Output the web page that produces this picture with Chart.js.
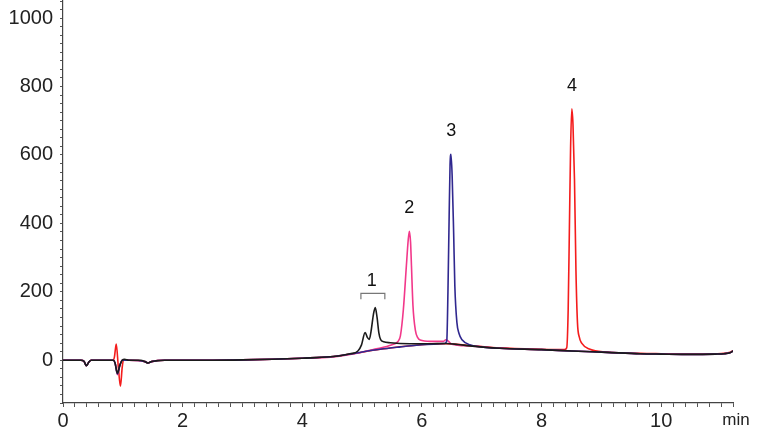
<!DOCTYPE html>
<html>
<head>
<meta charset="utf-8">
<script src="https://cdn.jsdelivr.net/npm/chart.js@4/dist/chart.umd.min.js"></script>
<style>
  html, body { margin: 0; padding: 0; background: #fff; }
  #wrap { width: 768px; height: 432px; }
</style>
</head>
<body>
<div id="wrap"><canvas id="c" width="768" height="432"></canvas></div>
<script>
// Chromatogram, four overlaid runs (min vs signal).
const blackRun = [
  [0, 0], [0.3, 0], [0.35, -3], [0.39, -16], [0.43, -6], [0.47, 0], [0.84, 0], [0.87, -8], [0.91, -38],
  [0.95, -15], [0.99, 0], [1.03, 3], [1.1, 0], [1.3, 0], [1.37, -4], [1.42, -8], [1.48, -4], [1.55, -2],
  [1.7, 0], [2.5, 0], [3.0, 1], [3.5, 3], [4.0, 6], [4.47, 10], [4.8, 19], [4.93, 27], [4.99, 45],
  [5.05, 81], [5.09, 66], [5.12, 61], [5.15, 85], [5.19, 135], [5.22, 154], [5.25, 125], [5.28, 80],
  [5.31, 60], [5.36, 54], [5.47, 51], [5.8, 48], [6.1, 48], [6.41, 49], [6.6, 46], [6.8, 42], [7.3, 35],
  [8.0, 31], [8.5, 27], [9.09, 23], [9.65, 19], [10.0, 18], [10.5, 17], [10.9, 18], [11.05, 19],
  [11.15, 22], [11.2, 27]
];
const blueRun = [
  [0, 0], [0.3, 0], [0.35, -3], [0.39, -16], [0.43, -6], [0.47, 0], [0.84, 0], [0.87, -8], [0.91, -40],
  [0.95, -15], [0.99, 0], [1.1, 0], [1.37, -4], [1.42, -8], [1.48, -4], [1.7, 0], [2.5, 0], [3.0, 1],
  [3.5, 3], [4.0, 6], [4.47, 10], [4.8, 18], [5.0, 24], [5.3, 32], [5.64, 39], [5.91, 44], [6.2, 47],
  [6.38, 49], [6.415, 56], [6.435, 200], [6.455, 420], [6.47, 570], [6.485, 602], [6.505, 540], [6.53, 374],
  [6.55, 218], [6.585, 110], [6.62, 78], [6.67, 60], [6.8, 45], [7.3, 35], [8.0, 31], [8.5, 27],
  [9.09, 23], [9.65, 19], [10.0, 18], [10.5, 17], [10.9, 18], [11.05, 19], [11.15, 22], [11.2, 27]
];
const pinkRun = [
  [0, 0], [0.3, 0], [0.35, -3], [0.39, -16], [0.43, -6], [0.47, 0], [0.84, 0], [0.87, -8], [0.91, -42],
  [0.95, -15], [0.99, 0], [1.1, 0], [1.37, -4], [1.42, -8], [1.48, -4], [1.7, 0], [2.5, 0], [3.0, 1],
  [3.5, 3], [4.0, 6], [4.47, 9], [4.8, 17], [5.2, 32], [5.5, 45], [5.6, 55], [5.64, 71], [5.69, 149],
  [5.74, 276], [5.77, 350], [5.79, 377], [5.81, 345], [5.825, 276], [5.85, 160], [5.89, 88], [5.93, 66],
  [5.97, 59], [6.14, 55], [6.36, 55], [6.4, 60], [6.44, 56], [6.5, 47], [6.8, 42], [7.3, 35], [8.0, 31],
  [8.5, 27], [9.09, 23], [9.65, 19], [10.0, 18], [10.5, 17], [10.9, 18], [11.05, 19], [11.15, 22], [11.2, 27]
];
const redRun = [
  [0, 0], [0.3, 0], [0.35, -3], [0.39, -16], [0.43, -6], [0.47, 0], [0.84, 0], [0.86, 10], [0.89, 47],
  [0.925, -20], [0.96, -76], [0.99, -20], [1.01, 0], [1.1, 0], [1.37, -4], [1.42, -8], [1.48, -4],
  [1.7, 0], [2.5, 0], [3.0, 1], [3.5, 3], [4.0, 6], [4.47, 10], [4.8, 18], [5.3, 32], [5.9, 44],
  [6.4, 48], [6.8, 43], [7.3, 36], [8.0, 32], [8.38, 31], [8.42, 36], [8.445, 150], [8.465, 384],
  [8.485, 620], [8.505, 735], [8.525, 690], [8.55, 530], [8.575, 260], [8.6, 110], [8.63, 68], [8.67, 50],
  [8.81, 32], [9.09, 24], [9.65, 20], [10.0, 19], [10.5, 18], [10.9, 19], [11.05, 20], [11.15, 23], [11.2, 28]
];

const peakNames = ['1', '2', '3', '4'];
const peakTimes = [5.16, 5.79, 6.49, 8.51];
const peakTops = [165, 377, 602, 735];
const groupOneSpan = [4.98, 5.38];

const xTickStep = 0.2;
const yTickStep = 25;

const pts = (arr) => arr.map(([x, y]) => ({ x, y }));
const line = (data, col) => ({
  data: pts(data), borderColor: col, backgroundColor: col, borderWidth: 1.6,
  pointRadius: 0, cubicInterpolationMode: 'monotone', fill: false
});

const peakLabels = {
  id: 'peakLabels',
  afterDatasetsDraw(chart) {
    const { ctx, scales: { x, y } } = chart;
    ctx.save();
    ctx.fillStyle = '#111';
    ctx.font = '18px "Liberation Sans", Arial, sans-serif';
    ctx.textAlign = 'center';
    ctx.textBaseline = 'middle';
    peakNames.forEach((n, i) => {
      ctx.fillText(n, x.getPixelForValue(peakTimes[i]), y.getPixelForValue(peakTops[i]) - 23);
    });
    // bracket over the split first peak
    const by = y.getPixelForValue(peakTops[0]) - 10.5;
    const bx0 = x.getPixelForValue(groupOneSpan[0]), bx1 = x.getPixelForValue(groupOneSpan[1]);
    ctx.strokeStyle = '#777';
    ctx.lineWidth = 1.2;
    ctx.beginPath();
    ctx.moveTo(bx0, by + 6); ctx.lineTo(bx0, by); ctx.lineTo(bx1, by); ctx.lineTo(bx1, by + 6);
    ctx.stroke();
    // axis unit
    ctx.font = '17px "Liberation Sans", Arial, sans-serif';
    ctx.textBaseline = 'alphabetic';
    ctx.fillStyle = '#222';
    ctx.fillText('min', x.right + 3, chart.height - 7);
    ctx.restore();
  }
};

Chart.defaults.font.family = '"Liberation Sans", Arial, sans-serif';
Chart.defaults.color = '#222';

new Chart(document.getElementById('c'), {
  type: 'line',
  data: {
    datasets: [
      line(blackRun, '#1b1b1b'),
      line(blueRun, '#30288f'),
      line(pinkRun, '#f2388a'),
      line(redRun, '#f41c1c')
    ]
  },
  options: {
    responsive: false,
    animation: false,
    layout: { padding: { top: 1, right: 35, left: 0, bottom: 0 } },
    plugins: { legend: { display: false }, tooltip: { enabled: false } },
    scales: {
      x: {
        type: 'linear', min: 0, max: 11.2,
        afterFit: (s) => { s.height = 29; s.paddingLeft = 0; s.paddingRight = 0; },
        border: { display: true, color: '#444', width: 1.2 },
        grid: { drawOnChartArea: false, tickLength: 4, tickColor: '#555' },
        ticks: {
          stepSize: xTickStep, autoSkip: false, maxRotation: 0, padding: 2,
          font: { size: 20 },
          callback: (v) => { const r = Math.round(v); return Math.abs(v - r) < 1e-6 && r % 2 === 0 ? r : ''; }
        }
      },
      y: {
        min: -125, max: 1050,
        afterFit: (s) => { s.width = 63; s.paddingTop = 0; s.paddingBottom = 0; },
        border: { display: true, color: '#444', width: 1.2 },
        grid: { drawOnChartArea: false, tickLength: 3, tickColor: '#555' },
        ticks: {
          stepSize: yTickStep, autoSkip: false, padding: 7,
          font: { size: 20 },
          callback: (v) => (v % 200 === 0 ? v : '')
        }
      }
    }
  },
  plugins: [peakLabels]
});
</script>
</body>
</html>
